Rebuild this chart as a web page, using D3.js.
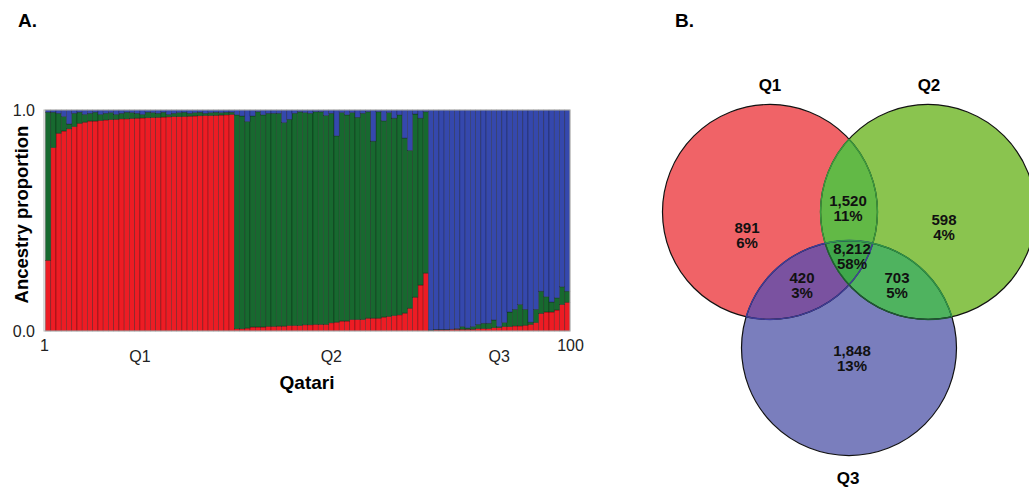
<!DOCTYPE html>
<html>
<head>
<meta charset="utf-8">
<script src="https://cdn.jsdelivr.net/npm/d3@7"></script>
<style>
  body { margin: 0; background: #fff; }
  svg { display: block; font-family: "Liberation Sans", Arial, sans-serif; }
</style>
</head>
<body>
<div id="chart"></div>
<script>
// ---- panel A: ancestry proportions, individuals sorted within each cluster ----
const q1Red = [0.32, 0.83, 0.895, 0.905, 0.915, 0.925, 0.94, 0.945, 0.95, 0.95, 0.953, 0.955, 0.957, 0.958, 0.96, 0.96, 0.962, 0.963,
  0.964, 0.965, 0.966, 0.967, 0.968, 0.969, 0.97, 0.97, 0.971, 0.972, 0.973, 0.974, 0.975, 0.975, 0.976, 0.977, 0.978, 0.98];
const q1Green = [0.67, 0.16, 0.09, 0.065, 0.022, 0.06, 0.05, 0.035, 0.035, 0.04, 0.027, 0.03, 0.031, 0.022, 0.025, 0.03, 0.026, 0.022,
  0.016, 0.025, 0.022, 0.018, 0.022, 0.011, 0.015, 0.018, 0.019, 0.013, 0.015, 0.016, 0.01, 0.013, 0.014, 0.011, 0.012, 0.01];
const q1Blue = [0.01, 0.01, 0.015, 0.03, 0.063, 0.015, 0.01, 0.02, 0.015, 0.01, 0.02, 0.015, 0.012, 0.02, 0.015, 0.01, 0.012, 0.015,
  0.02, 0.01, 0.012, 0.015, 0.01, 0.02, 0.015, 0.012, 0.01, 0.015, 0.012, 0.01, 0.015, 0.012, 0.01, 0.012, 0.01, 0.01];

const q2Red = [0.01, 0.01, 0.013, 0.018, 0.018, 0.018, 0.021, 0.021, 0.022, 0.022, 0.025, 0.025, 0.025, 0.028, 0.028, 0.03, 0.03, 0.03, 0.037,
  0.04, 0.045, 0.045, 0.052, 0.052, 0.052, 0.058, 0.058, 0.058, 0.063, 0.066, 0.07, 0.073, 0.081, 0.103, 0.153, 0.208, 0.262];
const q2Green = [0.968, 0.963, 0.935, 0.955, 0.974, 0.96, 0.964, 0.964, 0.963, 0.921, 0.933, 0.96, 0.967, 0.96, 0.957, 0.962, 0.962, 0.945, 0.948,
  0.843, 0.943, 0.933, 0.936, 0.915, 0.933, 0.934, 0.801, 0.934, 0.888, 0.922, 0.893, 0.905, 0.792, 0.714, 0.829, 0.755, 0.73];
const q2Blue = [0.022, 0.027, 0.052, 0.027, 0.008, 0.022, 0.015, 0.015, 0.015, 0.057, 0.042, 0.015, 0.008, 0.012, 0.015, 0.008, 0.008, 0.025, 0.015,
  0.117, 0.012, 0.022, 0.012, 0.033, 0.015, 0.008, 0.141, 0.008, 0.049, 0.012, 0.037, 0.022, 0.127, 0.183, 0.018, 0.037, 0.008];

const q3Red = [0.002, 0.005, 0.005, 0.005, 0.008, 0.008, 0.008, 0.008, 0.008, 0.011, 0.011, 0.011, 0.015, 0.015,
  0.02, 0.02, 0.023, 0.023, 0.026, 0.03, 0.038, 0.08, 0.086, 0.086, 0.095, 0.12, 0.13];
const q3Green = [0.002, 0.002, 0.002, 0.002, 0.0, 0.003, 0.012, 0.006, 0.012, 0.019, 0.024, 0.024, 0.035, 0.005,
  0.018, 0.066, 0.075, 0.097, 0.072, 0.01, 0.06, 0.1, 0.069, 0.045, 0.055, 0.08, 0.05];
const q3Blue = [0.996, 0.993, 0.993, 0.993, 0.992, 0.989, 0.98, 0.986, 0.98, 0.97, 0.965, 0.965, 0.95, 0.98,
  0.962, 0.914, 0.902, 0.88, 0.902, 0.96, 0.902, 0.82, 0.845, 0.869, 0.85, 0.8, 0.82];

const clusters = ["Q1", "Q2", "Q3"];
const components = ["red", "green", "blue"];
const yTicks = [0, 1];
const xEndTicks = [1, 100];

// ---- panel B: Venn counts ----
const vennSets = ["Q1", "Q2", "Q3"];
const vennCounts = ["891", "598", "1,848", "1,520", "420", "703", "8,212"];
const vennPercents = ["6%", "4%", "13%", "11%", "3%", "5%", "58%"];

// ---- styles / layout ----
const width = 1029, height = 487;
const margin = { top: 110, right: 459, bottom: 156, left: 44 };
const compColors = { red: "#ED1C24", green: "#17692F", blue: "#3548AD" };

const svg = d3.select("#chart").append("svg")
  .attr("width", width)
  .attr("height", height);

svg.append("rect").attr("width", width).attr("height", height).attr("fill", "#fff");

// panel letters
svg.append("text").attr("x", 18).attr("y", 27).attr("font-size", 19).attr("font-weight", "bold").text("A.");
svg.append("text").attr("x", 675).attr("y", 27).attr("font-size", 19).attr("font-weight", "bold").text("B.");

// ---------- stacked bars ----------
const clusterRows = [
  [q1Red, q1Green, q1Blue],
  [q2Red, q2Green, q2Blue],
  [q3Red, q3Green, q3Blue]
];
const rows = [];
clusterRows.forEach((c, ci) => {
  c[0].forEach((r, i) => {
    rows.push({ cluster: clusters[ci], red: r, green: c[1][i], blue: c[2][i] });
  });
});
rows.forEach((d, i) => d.id = i + 1);

const x = d3.scaleBand()
  .domain(rows.map(d => d.id))
  .range([margin.left + 1.5, width - margin.right])
  .padding(0);

const y = d3.scaleLinear()
  .domain([0, 1])
  .range([height - margin.bottom, margin.top]);

const series = d3.stack().keys(components)(rows);

const plot = svg.append("g");

plot.selectAll("g.layer")
  .data(series)
  .join("g")
  .attr("class", "layer")
  .attr("fill", d => compColors[d.key])
  .selectAll("rect")
  .data(d => d)
  .join("rect")
  .attr("x", d => x(d.data.id))
  .attr("y", d => y(Math.min(1, d[1])))
  .attr("width", x.bandwidth())
  .attr("height", d => Math.max(0, y(d[0]) - y(Math.min(1, d[1]))))
  .attr("stroke", "rgba(0,0,0,0.45)")
  .attr("stroke-width", 0.6);

// frame
plot.append("rect")
  .attr("x", margin.left)
  .attr("y", margin.top)
  .attr("width", width - margin.right - margin.left)
  .attr("height", height - margin.bottom - margin.top)
  .attr("fill", "none")
  .attr("stroke", "#b5b5b5")
  .attr("stroke-width", 1);

// y axis
const yAxis = d3.axisLeft(y)
  .tickValues(yTicks)
  .tickSize(0)
  .tickPadding(9)
  .tickFormat(d3.format(".1f"));

svg.append("g")
  .attr("transform", `translate(${margin.left},0)`)
  .call(yAxis)
  .call(g => g.select(".domain").remove())
  .call(g => g.selectAll("text")
    .attr("font-size", 16)
    .attr("fill", "#222")
    .attr("font-family", "Liberation Sans, Arial, sans-serif"));

// x end labels (individual 1 and 100)
const xEnds = d3.scaleLinear()
  .domain([1, 100])
  .range([margin.left, width - margin.right]);

const xAxis = d3.axisBottom(xEnds)
  .tickValues(xEndTicks)
  .tickSize(0)
  .tickPadding(9)
  .tickFormat(d3.format("d"));

svg.append("g")
  .attr("transform", `translate(0,${height - margin.bottom})`)
  .call(xAxis)
  .call(g => g.select(".domain").remove())
  .call(g => g.selectAll("text")
    .attr("font-size", 16)
    .attr("fill", "#222")
    .attr("font-family", "Liberation Sans, Arial, sans-serif"));

// cluster labels, centred under each group
svg.append("g")
  .selectAll("text")
  .data(clusters)
  .join("text")
  .attr("x", c => {
    const ids = rows.filter(r => r.cluster === c).map(r => r.id);
    return (x(d3.min(ids)) + x(d3.max(ids)) + x.bandwidth()) / 2;
  })
  .attr("y", height - margin.bottom + 31)
  .attr("text-anchor", "middle")
  .attr("font-size", 16)
  .attr("fill", "#222")
  .text(c => c);

// axis titles
svg.append("text")
  .attr("x", (margin.left + width - margin.right) / 2)
  .attr("y", height - margin.bottom + 58)
  .attr("text-anchor", "middle")
  .attr("font-size", 19)
  .attr("font-weight", "bold")
  .text("Qatari");

svg.append("text")
  .attr("transform", `translate(28,${(margin.top + height - margin.bottom) / 2 - 6}) rotate(-90)`)
  .attr("text-anchor", "middle")
  .attr("font-size", 18.5)
  .attr("font-weight", "bold")
  .text("Ancestry proportion");

// ---------- Venn diagram ----------
// layout in units of circle radius, mapped through scales
const vennCx = 849, vennCy = 257, vennR = 107.5;
const vx = d3.scaleLinear().domain([-1, 1]).range([vennCx - vennR, vennCx + vennR]);
const vy = d3.scaleLinear().domain([-1, 1]).range([vennCy - vennR, vennCy + vennR]);

const circleLayout = [
  { cx: -0.735, cy: -0.419, tx: -0.735, ty: -1.6 },
  { cx: 0.735, cy: -0.419, tx: 0.744, ty: -1.6 },
  { cx: 0.0, cy: 0.847, tx: -0.009, ty: 2.056 }
];
const regionLayout = [
  [-0.949, -0.205], [0.884, -0.279], [0.028, 0.94],
  [-0.009, -0.456], [-0.437, 0.26], [0.447, 0.26], [0.028, -0.009]
];
const circleFill = ["#F06367", "#8AC44F", "#7A7EBD"];
// Q1∩Q2, Q1∩Q3, Q2∩Q3, all three
const overlapFill = ["#62B946", "#7A52A0", "#4FB35F", "#3FA74B"];

const circles = vennSets.map((s, i) => ({
  name: s,
  x: vx(circleLayout[i].cx),
  y: vy(circleLayout[i].cy),
  r: vx(1) - vx(0)
}));

const venn = svg.append("g");
const defs = svg.append("defs");
circles.forEach((c, i) => {
  defs.append("clipPath").attr("id", "clip" + i)
    .append("circle").attr("cx", c.x).attr("cy", c.y).attr("r", c.r);
});
// nested clip for Q1∩Q2
defs.append("clipPath").attr("id", "clip01")
  .append("circle")
  .attr("cx", circles[1].x).attr("cy", circles[1].y).attr("r", circles[1].r)
  .attr("clip-path", "url(#clip0)");

venn.selectAll("circle.base")
  .data(circles)
  .join("circle")
  .attr("class", "base")
  .attr("cx", d => d.x).attr("cy", d => d.y).attr("r", d => d.r)
  .attr("fill", (d, i) => circleFill[i]);

const overlaps = [
  { shape: 1, clip: "clip0", fill: overlapFill[0] },
  { shape: 2, clip: "clip0", fill: overlapFill[1] },
  { shape: 2, clip: "clip1", fill: overlapFill[2] },
  { shape: 2, clip: "clip01", fill: overlapFill[3] }
];
venn.selectAll("circle.overlap")
  .data(overlaps)
  .join("circle")
  .attr("class", "overlap")
  .attr("cx", d => circles[d.shape].x)
  .attr("cy", d => circles[d.shape].y)
  .attr("r", d => circles[d.shape].r)
  .attr("fill", d => d.fill)
  .attr("clip-path", d => `url(#${d.clip})`);

// outlines: black outside, coloured where they cross another circle
venn.selectAll("circle.outline")
  .data(circles)
  .join("circle")
  .attr("class", "outline")
  .attr("cx", d => d.x).attr("cy", d => d.y).attr("r", d => d.r)
  .attr("fill", "none")
  .attr("stroke", "#111")
  .attr("stroke-width", 1.2);

const innerArcs = [
  { shape: 0, clip: "clip1", stroke: "#3C9A3E" },
  { shape: 0, clip: "clip2", stroke: "#3E3C98" },
  { shape: 1, clip: "clip0", stroke: "#3C9A3E" },
  { shape: 1, clip: "clip2", stroke: "#1F5A34" },
  { shape: 2, clip: "clip0", stroke: "#3E3C98" },
  { shape: 2, clip: "clip1", stroke: "#2F9648" }
];
venn.selectAll("circle.inner")
  .data(innerArcs)
  .join("circle")
  .attr("class", "inner")
  .attr("cx", d => circles[d.shape].x)
  .attr("cy", d => circles[d.shape].y)
  .attr("r", d => circles[d.shape].r)
  .attr("fill", "none")
  .attr("stroke", d => d.stroke)
  .attr("stroke-width", 1.4)
  .attr("clip-path", d => `url(#${d.clip})`);

// set titles
venn.selectAll("text.title")
  .data(circles)
  .join("text")
  .attr("class", "title")
  .attr("x", (d, i) => vx(circleLayout[i].tx))
  .attr("y", (d, i) => vy(circleLayout[i].ty))
  .attr("dy", "0.35em")
  .attr("text-anchor", "middle")
  .attr("font-size", 17)
  .attr("font-weight", "bold")
  .text(d => d.name);

// region labels
const regionText = venn.selectAll("text.region")
  .data(vennCounts)
  .join("text")
  .attr("class", "region")
  .attr("text-anchor", "middle")
  .attr("font-size", 15)
  .attr("font-weight", "bold")
  .attr("fill", "#111");

regionText.append("tspan")
  .attr("x", (d, i) => vx(regionLayout[i][0]))
  .attr("y", (d, i) => vy(regionLayout[i][1]) - 7.5)
  .attr("dy", "0.35em")
  .text(d => d);

regionText.append("tspan")
  .attr("x", (d, i) => vx(regionLayout[i][0]))
  .attr("y", (d, i) => vy(regionLayout[i][1]) + 7.5)
  .attr("dy", "0.35em")
  .text((d, i) => vennPercents[i]);
</script>
</body>
</html>
